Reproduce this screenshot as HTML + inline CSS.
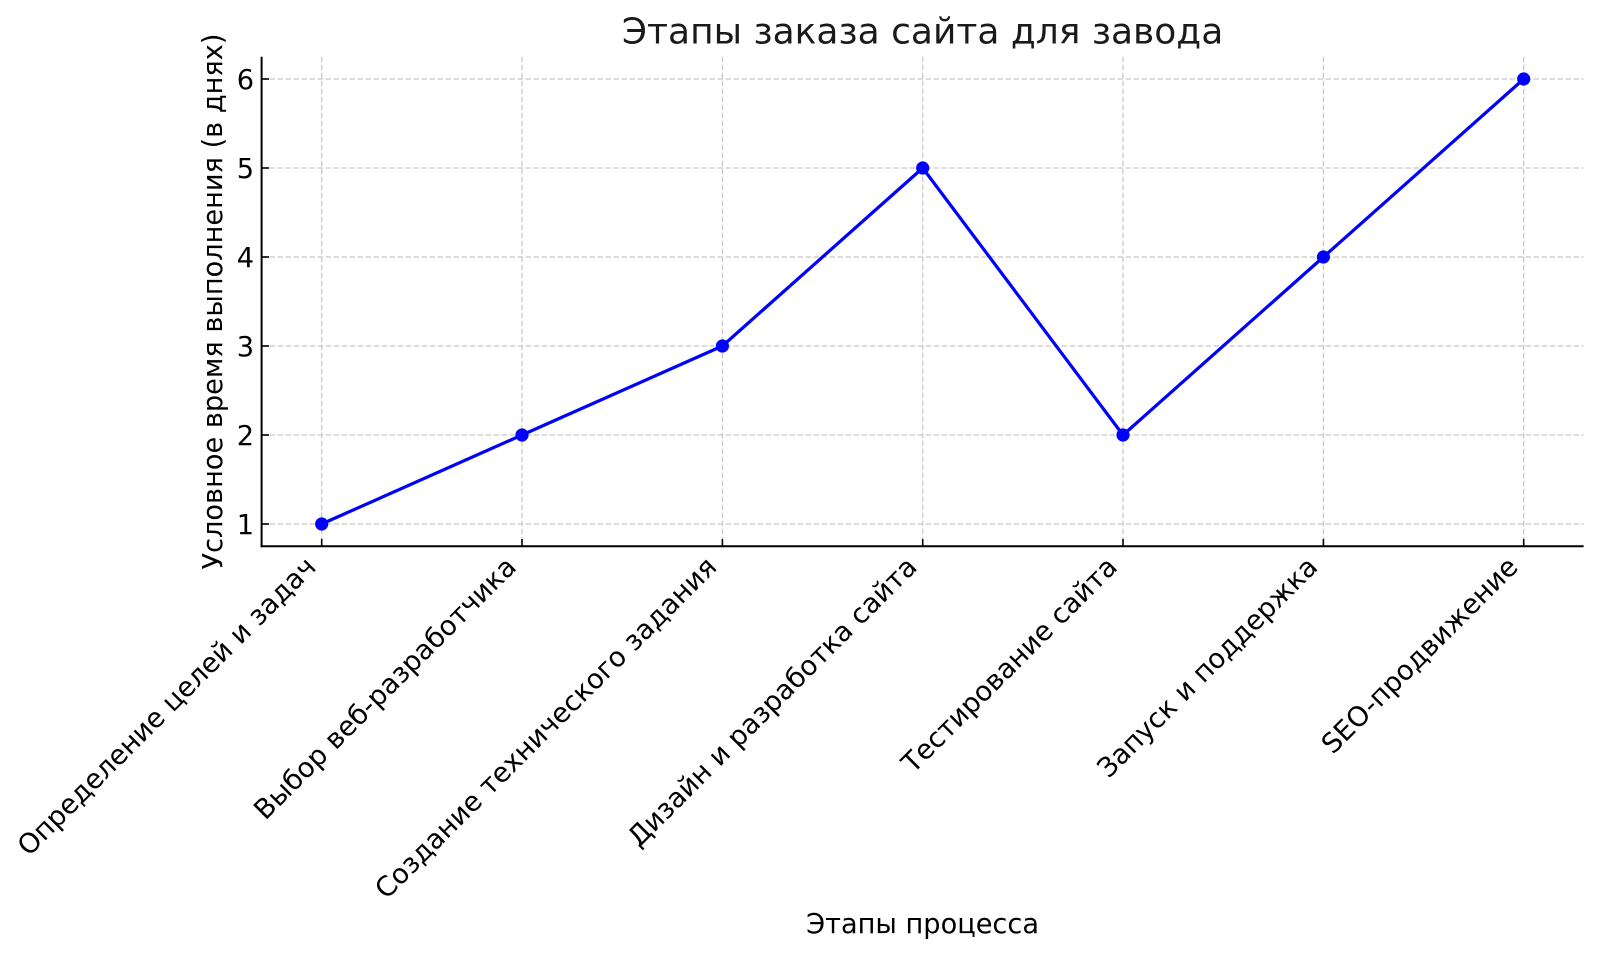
<!DOCTYPE html>
<html>
<head>
<meta charset="utf-8">
<style>
html,body{margin:0;padding:0;background:#fff;}
svg{display:block;}
text{font-family:"DejaVu Sans","Liberation Sans",sans-serif;fill:#000;}
</style>
</head>
<body>
<svg width="1600" height="955" viewBox="0 0 1600 955" xmlns="http://www.w3.org/2000/svg">
<rect width="1600" height="955" fill="#fff"/>
<!-- grid -->
<g stroke="#c8c8c8" stroke-width="1.3" stroke-dasharray="5.5,2.5" fill="none">
<line x1="261.6" y1="524" x2="1583.6" y2="524"/>
<line x1="261.6" y1="435" x2="1583.6" y2="435"/>
<line x1="261.6" y1="346" x2="1583.6" y2="346"/>
<line x1="261.6" y1="257" x2="1583.6" y2="257"/>
<line x1="261.6" y1="168" x2="1583.6" y2="168"/>
<line x1="261.6" y1="79" x2="1583.6" y2="79"/>
<line x1="321.7" y1="56.75" x2="321.7" y2="546.25"/>
<line x1="522.0" y1="56.75" x2="522.0" y2="546.25"/>
<line x1="722.4" y1="56.75" x2="722.4" y2="546.25"/>
<line x1="922.7" y1="56.75" x2="922.7" y2="546.25"/>
<line x1="1123.0" y1="56.75" x2="1123.0" y2="546.25"/>
<line x1="1323.4" y1="56.75" x2="1323.4" y2="546.25"/>
<line x1="1523.7" y1="56.75" x2="1523.7" y2="546.25"/>
</g>
<!-- series -->
<polyline fill="none" stroke="#0000ff" stroke-width="3.2" stroke-linejoin="round"
 points="321.7,524 522.0,435 722.4,346 922.7,168 1123.0,435 1323.4,257 1523.7,79"/>
<g fill="#0000ff">
<circle cx="321.7" cy="524" r="6.6"/>
<circle cx="522.0" cy="435" r="6.6"/>
<circle cx="722.4" cy="346" r="6.6"/>
<circle cx="922.7" cy="168" r="6.6"/>
<circle cx="1123.0" cy="435" r="6.6"/>
<circle cx="1323.4" cy="257" r="6.6"/>
<circle cx="1523.7" cy="79" r="6.6"/>
</g>
<!-- spines -->
<g stroke="#000" stroke-width="2" fill="none">
<line x1="261.6" y1="56.75" x2="261.6" y2="547.25"/>
<line x1="260.6" y1="546.25" x2="1583.6" y2="546.25"/>
</g>
<!-- ticks (inward) -->
<g stroke="#000" stroke-width="1.6">
<line x1="261.6" y1="524" x2="269" y2="524"/>
<line x1="261.6" y1="435" x2="269" y2="435"/>
<line x1="261.6" y1="346" x2="269" y2="346"/>
<line x1="261.6" y1="257" x2="269" y2="257"/>
<line x1="261.6" y1="168" x2="269" y2="168"/>
<line x1="261.6" y1="79" x2="269" y2="79"/>
<line x1="321.7" y1="546.25" x2="321.7" y2="539"/>
<line x1="522.0" y1="546.25" x2="522.0" y2="539"/>
<line x1="722.4" y1="546.25" x2="722.4" y2="539"/>
<line x1="922.7" y1="546.25" x2="922.7" y2="539"/>
<line x1="1123.0" y1="546.25" x2="1123.0" y2="539"/>
<line x1="1323.4" y1="546.25" x2="1323.4" y2="539"/>
<line x1="1523.7" y1="546.25" x2="1523.7" y2="539"/>
</g>
<!-- y tick labels -->
<g font-size="27.2" text-anchor="end">
<text x="254" y="534">1</text>
<text x="254" y="445">2</text>
<text x="254" y="356">3</text>
<text x="254" y="267">4</text>
<text x="254" y="178">5</text>
<text x="254" y="89">6</text>
</g>
<!-- x tick labels -->
<g font-size="27.2" text-anchor="end">
<text x="317.5" y="568.5" transform="rotate(-45 317.5 568.5)">Определение целей и задач</text>
<text x="517.8" y="568.5" transform="rotate(-45 517.8 568.5)">Выбор веб-разработчика</text>
<text x="718.2" y="568.5" transform="rotate(-45 718.2 568.5)">Создание технического задания</text>
<text x="918.5" y="568.5" transform="rotate(-45 918.5 568.5)">Дизайн и разработка сайта</text>
<text x="1118.8" y="568.5" transform="rotate(-45 1118.8 568.5)">Тестирование сайта</text>
<text x="1319.2" y="568.5" transform="rotate(-45 1319.2 568.5)">Запуск и поддержка</text>
<text x="1519.5" y="568.5" transform="rotate(-45 1519.5 568.5)">SEO-продвижение</text>
</g>
<!-- axis labels -->
<text x="922.6" y="933" font-size="27.2" text-anchor="middle">Этапы процесса</text>
<text x="222" y="301.5" font-size="27.2" text-anchor="middle" transform="rotate(-90 222 301.5)">Условное время выполнения (в днях)</text>
<!-- title -->
<text x="922.6" y="43.5" font-size="36" text-anchor="middle" style="fill:#1a1a1a">Этапы заказа сайта для завода</text>
</svg>
</body>
</html>
